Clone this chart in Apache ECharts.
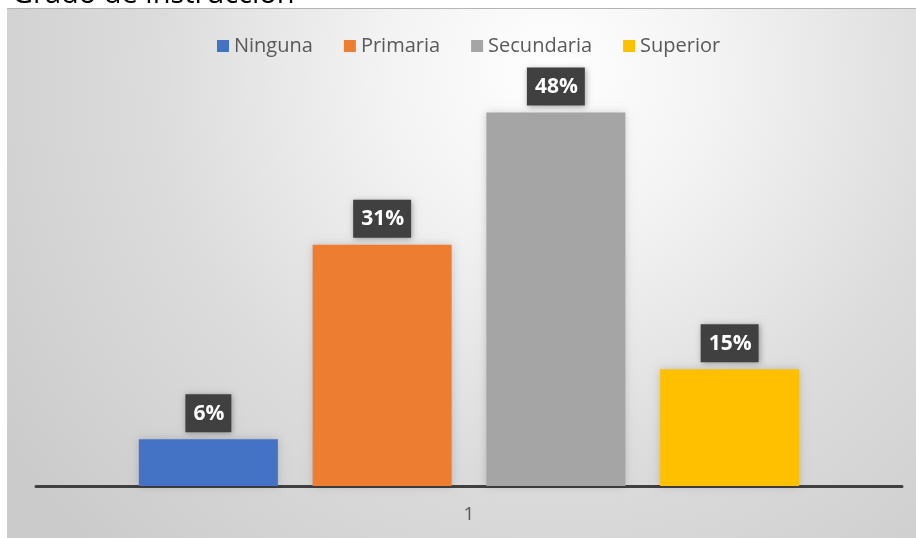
<!DOCTYPE html>
<html>
<head>
<meta charset="utf-8">
<script src="https://cdn.jsdelivr.net/npm/echarts@6/dist/echarts.min.js"></script>
<style>
  html, body { margin: 0; padding: 0; background: #ffffff; }
  #chart { width: 916px; height: 538px; }
</style>
</head>
<body>
<div id="chart"></div>
<script>
// Nivel educativo: porcentaje por categoría
const categories = ['1'];
const seriesNames = ['Ninguna', 'Primaria', 'Secundaria', 'Superior'];
const seriesValues = [6, 31, 48, 15];
const seriesColors = ['#4472C4', '#ED7D31', '#A5A5A5', '#FFC000'];
const titleText = 'Grado de instrucción';

const chart = echarts.init(document.getElementById('chart'));

const series = seriesNames.map((name, i) => ({
  name: name,
  type: 'bar',
  data: [seriesValues[i]],
  barWidth: 139,
  barGap: '25%',
  itemStyle: {
    color: seriesColors[i],
    shadowBlur: 8,
    shadowColor: 'rgba(0,0,0,0.18)'
  },
  label: {
    show: true,
    position: 'top',
    distance: 7,
    formatter: '{c}%',
    color: '#ffffff',
    fontFamily: 'Open Sans',
    fontWeight: 'bold',
    fontSize: 21,
    lineHeight: 21,
    backgroundColor: '#404040',
    padding: [9, 7, 8, 8],
    shadowBlur: 6,
    shadowColor: 'rgba(0,0,0,0.35)',
    shadowOffsetX: 1,
    shadowOffsetY: 1
  }
}));

chart.setOption({
  animation: false,
  backgroundColor: '#ffffff',
  graphic: [
    {
      type: 'rect',
      z: -10,
      silent: true,
      shape: { x: 7, y: 8, width: 909, height: 530 },
      style: {
        fill: new echarts.graphic.RadialGradient(0.6, 0.12, 1.25, [
          { offset: 0, color: '#ffffff' },
          { offset: 0.25, color: '#f3f3f3' },
          { offset: 0.6, color: '#dcdcdc' },
          { offset: 1, color: '#cbcbcb' }
        ])
      }
    },
    {
      type: 'line',
      z: -9,
      silent: true,
      shape: { x1: 7, y1: 8.5, x2: 916, y2: 8.5 },
      style: { stroke: '#b4b4b4', lineWidth: 1 }
    },
    {
      type: 'text',
      z: 10,
      left: 12,
      top: -20,
      style: {
        text: titleText,
        fill: '#000000',
        font: '29px "Open Sans"'
      }
    }
  ],
  legend: {
    data: seriesNames,
    left: 212,
    top: 31,
    icon: 'rect',
    itemWidth: 12,
    itemHeight: 12,
    itemGap: 31,
    textStyle: {
      color: '#595959',
      fontFamily: 'Open Sans',
      fontSize: 20
    }
  },
  grid: {
    left: 36,
    right: 14,
    top: 97,
    bottom: 52
  },
  xAxis: {
    type: 'category',
    data: categories,
    axisLine: { show: true, lineStyle: { color: '#404040', width: 3 } },
    axisTick: { show: false },
    axisLabel: {
      color: '#595959',
      fontFamily: 'Open Sans',
      fontSize: 19,
      margin: 19
    }
  },
  yAxis: {
    type: 'value',
    min: 0,
    max: 50,
    show: false,
    splitLine: { show: false }
  },
  series: series
});
</script>
</body>
</html>
